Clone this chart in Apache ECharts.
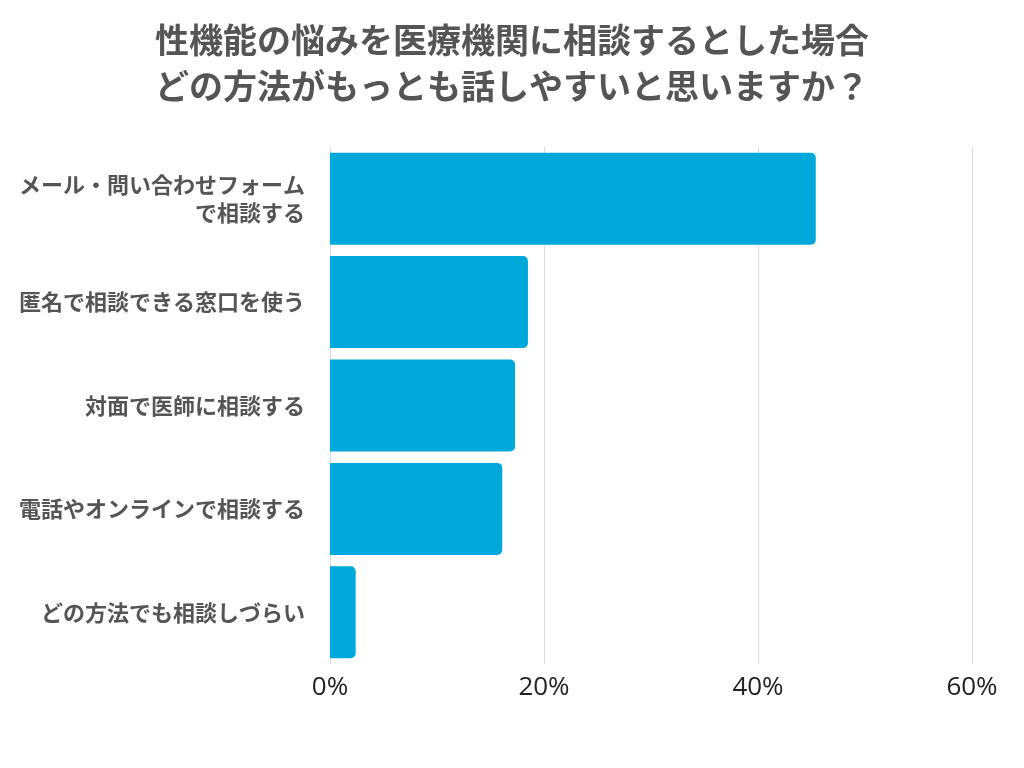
<!DOCTYPE html>
<html>
<head>
<meta charset="utf-8">
<script src="https://cdn.jsdelivr.net/npm/echarts@6/dist/echarts.min.js"></script>
<style>
  html, body { margin: 0; padding: 0; background: #fff; }
  #main { width: 1024px; height: 768px; }
</style>
</head>
<body>
<div id="main"></div>
<script>
var categories = [
    'メール・問い合わせフォーム\nで相談する',
    '匿名で相談できる窓口を使う',
    '対面で医師に相談する',
    '電話やオンラインで相談する',
    'どの方法でも相談しづらい'
]
var values = [45.4, 18.5, 17.3, 16.1, 2.4]
var xTicks = [0, 20, 40, 60]

var chart = echarts.init(document.getElementById('main'))
chart.setOption({
    backgroundColor: '#fff',
    title: {
        text: '性機能の悩みを医療機関に相談するとした場合\nどの方法がもっとも話しやすいと思いますか？',
        left: 'center',
        top: 12,
        textStyle: {
            fontFamily: 'Noto Sans CJK JP',
            fontSize: 34,
            fontWeight: 'bold',
            color: '#555',
            lineHeight: 46
        }
    },
    grid: {
        left: 330,
        right: 52,
        top: 147,
        height: 517
    },
    xAxis: {
        type: 'value',
        min: xTicks[0],
        max: xTicks[xTicks.length - 1],
        interval: 20,
        axisLine: { show: false },
        axisTick: { show: false },
        splitLine: { lineStyle: { color: '#dcdcdc', width: 1 } },
        axisLabel: {
            margin: 11,
            fontFamily: 'Open Sans',
            fontSize: 26,
            color: '#222',
            formatter: function (v) { return v + '%' }
        }
    },
    yAxis: {
        type: 'category',
        inverse: true,
        data: categories,
        axisLine: { show: false },
        axisTick: { show: false },
        axisLabel: {
            margin: 25,
            fontFamily: 'Noto Sans CJK JP',
            fontSize: 22,
            fontWeight: 'bold',
            color: '#555',
            lineHeight: 28,
            align: 'right'
        }
    },
    series: [{
        type: 'bar',
        data: values,
        barWidth: 92,
        itemStyle: {
            color: '#00a9d9',
            borderRadius: [0, 5, 5, 0]
        }
    }]
})
</script>
</body>
</html>
